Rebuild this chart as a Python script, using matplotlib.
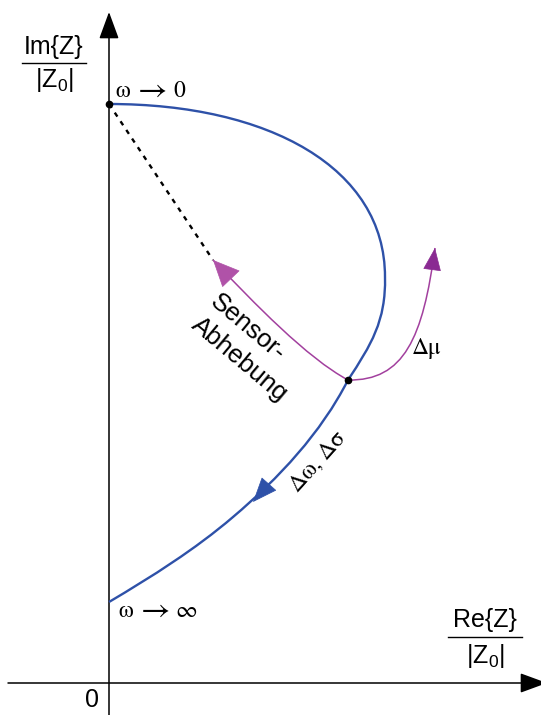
import matplotlib
matplotlib.use("Agg")
import matplotlib.pyplot as plt
from matplotlib.path import Path
from matplotlib.patches import PathPatch

plt.rcParams["mathtext.fontset"] = "custom"
plt.rcParams["mathtext.rm"] = "Liberation Sans"
plt.rcParams["mathtext.it"] = "Liberation Sans"

# Impedance locus normalised to |Z0| (Re, Im), omega -> 0 down to omega -> inf,
# given as chained cubic Bezier segments (knot, handle, handle, knot, ...)
locus_re = [0.00, 1.60, 2.76, 2.76,   # upper arc to the right-most point
            2.77, 2.62, 2.39,         # down to the operating point
            2.12, 1.70, 1.24,         # towards high frequencies
            0.86, 0.43, 0.00]         # end on the imaginary axis
locus_im = [5.79, 5.79, 5.15, 4.06,
            3.62, 3.38, 3.03,
            2.50, 2.05, 1.66,
            1.335, 1.065, 0.81]

# Operating point and the omega -> 0 end point
op_point = (2.39, 3.03)
start_point = (0.00, 5.79)

# Dashed straight line from the start point in lift-off direction
liftoff_end = (1.04, 4.23)

# Bezier control points of the two sensitivity trajectories
liftoff_re = [2.39, 1.98, 1.45, 1.04]
liftoff_im = [3.03, 3.25, 3.80, 4.23]
mu_re = [2.39, 2.95, 3.14, 3.26]
mu_im = [3.03, 3.02, 3.45, 4.35]

# Direction arrow on the locus (tail, tip)
locus_arrow = [(1.60, 1.99), (1.44, 1.81)]

BLUE = "#2e51a8"
MAGENTA = "#a2409e"
PINK_HEAD = "#b052a8"
PURPLE_HEAD = "#8a2a92"
SERIF = ["STIXGeneral", "Liberation Serif", "DejaVu Serif"]
SANS = ["Liberation Sans", "DejaVu Sans"]

fig = plt.figure(figsize=(5.41, 7.15), dpi=100)
ax = fig.add_axes([0, 0, 1, 1])
ax.set_xlim(-1.09, 4.32)
ax.set_ylim(-0.32, 6.83)
ax.axis("off")

# Coordinate axes with arrow heads
axis_style = dict(arrowstyle="-|>,head_length=0.6,head_width=0.22",
                  mutation_scale=28, color="black", lw=1.1,
                  shrinkA=0, shrinkB=0)
ax.annotate("", xy=(0, 6.71), xytext=(0, -0.40), arrowprops=axis_style,
            annotation_clip=False)
ax.annotate("", xy=(4.38, 0), xytext=(-1.01, 0), arrowprops=axis_style,
            annotation_clip=False)

# Locus
codes = [Path.MOVETO] + [Path.CURVE4] * (len(locus_re) - 1)
ax.add_patch(PathPatch(Path(list(zip(locus_re, locus_im)), codes),
                       facecolor="none", edgecolor=BLUE, lw=1.7, zorder=3))
ax.annotate("", xy=locus_arrow[1], xytext=locus_arrow[0],
            arrowprops=dict(arrowstyle="-|>,head_length=0.75,head_width=0.3",
                            mutation_scale=22, color=BLUE, lw=0.5,
                            shrinkA=0, shrinkB=0), zorder=4)

# Dashed lift-off line
ax.plot([start_point[0], liftoff_end[0]], [start_point[1], liftoff_end[1]],
        color="black", lw=1.7, linestyle=(0, (2.0, 2.4)), zorder=2)

# Sensitivity trajectories: curve body plus separately coloured head
c4 = [Path.MOVETO, Path.CURVE4, Path.CURVE4, Path.CURVE4]
for xs, ys, head_col, scale, width in ((liftoff_re, liftoff_im, PINK_HEAD, 24, 0.34),
                                       (mu_re, mu_im, PURPLE_HEAD, 20, 0.3)):
    ax.add_patch(PathPatch(Path(list(zip(xs, ys)), c4), facecolor="none",
                           edgecolor=MAGENTA, lw=1.1, zorder=4))
    dx, dy = xs[2] - xs[3], ys[2] - ys[3]
    norm = (dx ** 2 + dy ** 2) ** 0.5
    tail = (xs[3] + 0.16 * dx / norm, ys[3] + 0.16 * dy / norm)
    ax.annotate("", xy=(xs[3], ys[3]), xytext=tail,
                arrowprops=dict(arrowstyle=f"-|>,head_length=0.75,head_width={width}",
                                mutation_scale=scale, color=head_col, lw=0.5,
                                shrinkA=0, shrinkB=0), zorder=5)

# Points
ax.plot(*start_point, marker="o", ms=4.5, color="black", zorder=6, clip_on=False)
ax.plot(*op_point, marker="o", ms=4.5, color="black", zorder=6)

# Axis labels as fractions
def frac(x, y_num, y_bar, y_den, half_width, num):
    ax.text(x, y_num, num, ha="center", va="center", fontsize=18, family=SANS)
    ax.plot([x - half_width, x + half_width], [y_bar, y_bar], color="black", lw=1.0)
    ax.text(x, y_den, r"$\mathrm{|Z_{0}|}$", ha="center", va="center", fontsize=18)

frac(-0.55, 6.36, 6.20, 6.03, 0.32, "Im{Z}")
frac(3.76, 0.63, 0.46, 0.27, 0.37, "Re{Z}")

ax.text(-0.17, -0.17, "0", ha="center", va="center", fontsize=18, family=SANS)

# Frequency limits, set piece by piece: omega, arrow, limit value
def limit_label(x_parts, y, parts):
    for x, s, size in zip(x_parts, parts, (17, 23, 17)):
        ax.text(x, y, s, ha="left", va="center", fontsize=size, family=SERIF)

limit_label([0.06, 0.29, 0.64], 5.915, ["ω", "→", "0"])
limit_label([0.09, 0.32, 0.66], 0.72, ["ω", "→", "∞"])

ax.text(3.18, 3.35, "Δμ", ha="center", va="center", fontsize=17, family=SERIF)
ax.text(2.09, 2.21, "Δω, Δσ", ha="center", va="center", fontsize=17,
        family=SERIF, rotation=48, rotation_mode="anchor")
ax.text(1.40, 3.35, "Sensor-\nAbhebung", ha="center", va="center", fontsize=18.5,
        family=SANS, rotation=-40, rotation_mode="anchor", linespacing=1.3,
        multialignment="left")

fig.savefig("out.png", dpi=100)
